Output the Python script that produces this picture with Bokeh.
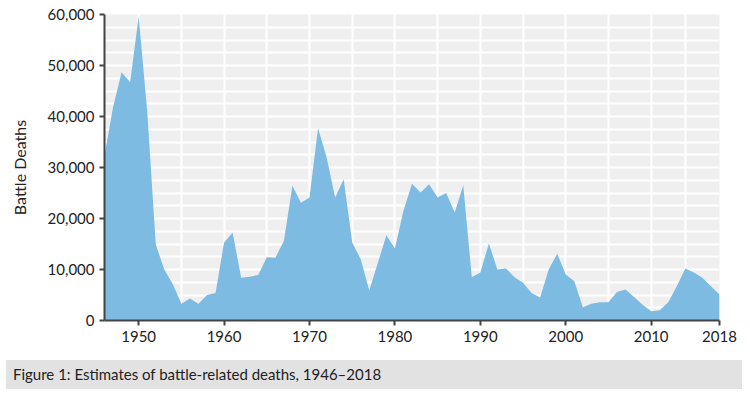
from bokeh.plotting import figure
from bokeh.models import FixedTicker, NumeralTickFormatter, Range1d, Div, ColumnDataSource
from bokeh.layouts import column
from bokeh.embed import file_html
from bokeh.resources import INLINE

years = list(range(1946, 2019))
deaths = [
    32300, 41800, 48700, 46700, 59600, 41100, 14900, 10000, 7100, 3300,
    4300, 3300, 5000, 5400, 15300, 17200, 8400, 8600, 8900, 12400,
    12300, 15600, 26400, 23100, 24100, 37700, 32000, 24100, 27700, 15300,
    12000, 5900, 11300, 16700, 14100, 21500, 26800, 25100, 26700, 24100,
    25000, 21200, 26500, 8500, 9400, 15100, 10000, 10200, 8500, 7400,
    5400, 4500, 10000, 13100, 9000, 7700, 2600, 3300, 3600, 3600,
    5600, 6100, 4600, 3100, 1800, 2000, 3600, 6700, 10200, 9400,
    8400, 6700, 5100,
]
x_ticks = [1950, 1960, 1970, 1980, 1990, 2000, 2010, 2018]
x_grid = [1950, 1955, 1960, 1965, 1970, 1975, 1980, 1985, 1990, 1995, 2000, 2005, 2010, 2014]
y_ticks = [0, 10000, 20000, 30000, 40000, 50000, 60000]
y_grid = [0, 2500, 5000, 7500, 10000, 12500, 15000, 17500, 20000, 22500, 25000, 27500,
          30000, 32500, 35000, 37500, 40000, 42500, 45000, 47500, 50000, 52500, 55000, 57500, 60000]
caption = "Figure 1: Estimates of battle-related deaths, 1946\u20132018"

src = ColumnDataSource(dict(year=years, deaths=deaths))

p = figure(width=742, height=355, output_backend="svg", toolbar_location=None,
           x_range=Range1d(1946, 2018), y_range=Range1d(0, 60000),
           min_border_left=104, min_border_right=23, min_border_top=14, min_border_bottom=35)
p.outline_line_color = None
p.background_fill_color = "#efefef"
p.border_fill_color = "white"

p.varea(x="year", y1=0, y2="deaths", source=src, fill_color="#7dbbe2", fill_alpha=1.0)

p.xgrid.ticker = FixedTicker(ticks=x_grid)
p.ygrid.ticker = FixedTicker(ticks=y_grid)
for g in (p.xgrid, p.ygrid):
    g.grid_line_color = "white"
    g.grid_line_width = 2

p.xaxis.ticker = FixedTicker(ticks=x_ticks)
p.yaxis.ticker = FixedTicker(ticks=y_ticks)
p.yaxis.formatter = NumeralTickFormatter(format="0,0")
p.yaxis.axis_label = "Battle Deaths"
p.yaxis.axis_label_standoff = 16
p.yaxis.axis_label_text_font = "Lato"
p.yaxis.axis_label_text_font_size = "16px"
p.yaxis.axis_label_text_font_style = "normal"
p.yaxis.axis_label_text_color = "#222222"

for ax in (p.xaxis, p.yaxis):
    ax.axis_line_color = "#444444"
    ax.axis_line_width = 2
    ax.major_tick_line_color = "#444444"
    ax.major_tick_line_width = 2
    ax.major_tick_out = 5
    ax.major_tick_in = 0
    ax.minor_tick_line_color = None
    ax.major_label_text_font = "Lato"
    ax.major_label_text_font_size = "15px"
    ax.major_label_text_color = "#222222"
    ax.major_label_standoff = 5

cap = Div(text=caption, width=736, height=29,
          styles={"background-color": "#e2e2e2", "font-family": "Lato", "font-size": "15px",
                  "color": "#222222", "line-height": "29px", "padding-left": "7px",
                  "margin-left": "6px", "box-sizing": "border-box"})

layout = column(p, cap, spacing=0)
open("out.html", "w").write(file_html(layout, INLINE))
